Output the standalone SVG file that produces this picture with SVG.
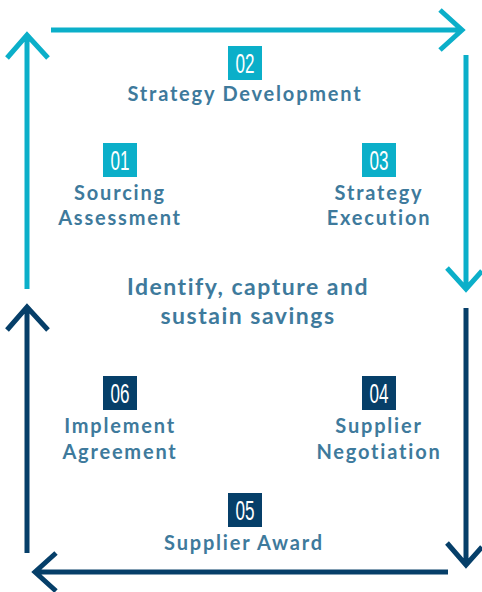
<svg xmlns="http://www.w3.org/2000/svg" width="482" height="592" viewBox="0 0 482 592">
<style>
.t{stroke:#0bafc9;stroke-width:5;fill:none}
.d{stroke:#063f69;stroke-width:5;fill:none}
.bt{fill:#0bafc9}
.bd{fill:#063f69}
.num{font-family:"Liberation Sans",sans-serif;font-size:27px;fill:#fff;text-anchor:middle}
.lbl{font-family:Lato,"Liberation Sans",sans-serif;font-weight:bold;font-size:20px;fill:#3e7a9c;text-anchor:middle;letter-spacing:1.8px}
.ctr{font-size:23px;letter-spacing:1.5px}
</style>
<rect width="482" height="592" fill="#fff"/>
<g id="connectors">
<path class="t" d="M51 30 H462 M440 10 L462 30 L440 50"/>
<path class="t" d="M27 289 V35 M7 58 L27 35 L48 58"/>
<path class="t" d="M466 55 V289 M447 268 L466 289 L482 271"/>
<path class="d" d="M466 308 V565 M447 543 L466 565 L482 547"/>
<path class="d" d="M448 572 H35 M56 553 L35 572 L56 591"/>
<path class="d" d="M27 553 V307 M7 330 L27 307 L48 330"/>
</g>
<g id="n02"><rect class="bt" x="228" y="46" width="34" height="34"/><text class="num" x="245" y="73" textLength="19" lengthAdjust="spacingAndGlyphs">02</text><text class="lbl" x="245" y="101">Strategy Development</text></g>
<g id="n01"><rect class="bt" x="103" y="143" width="34" height="34"/><text class="num" x="120" y="170" textLength="19" lengthAdjust="spacingAndGlyphs">01</text><text class="lbl" x="120" y="200">Sourcing</text><text class="lbl" x="120" y="225">Assessment</text></g>
<g id="n03"><rect class="bt" x="362" y="143" width="34" height="34"/><text class="num" x="379" y="170" textLength="19" lengthAdjust="spacingAndGlyphs">03</text><text class="lbl" x="379" y="200">Strategy</text><text class="lbl" x="379" y="225">Execution</text></g>
<g id="center"><text class="lbl ctr" x="248" y="295">Identify, capture and</text><text class="lbl ctr" x="248" y="324">sustain savings</text></g>
<g id="n06"><rect class="bd" x="103" y="376" width="34" height="34"/><text class="num" x="120" y="403" textLength="19" lengthAdjust="spacingAndGlyphs">06</text><text class="lbl" x="120" y="433">Implement</text><text class="lbl" x="120" y="459">Agreement</text></g>
<g id="n04"><rect class="bd" x="362" y="376" width="34" height="34"/><text class="num" x="379" y="403" textLength="19" lengthAdjust="spacingAndGlyphs">04</text><text class="lbl" x="379" y="433">Supplier</text><text class="lbl" x="379" y="459">Negotiation</text></g>
<g id="n05"><rect class="bd" x="228" y="493" width="34" height="34"/><text class="num" x="245" y="520" textLength="19" lengthAdjust="spacingAndGlyphs">05</text><text class="lbl" x="244" y="550">Supplier Award</text></g>
</svg>
